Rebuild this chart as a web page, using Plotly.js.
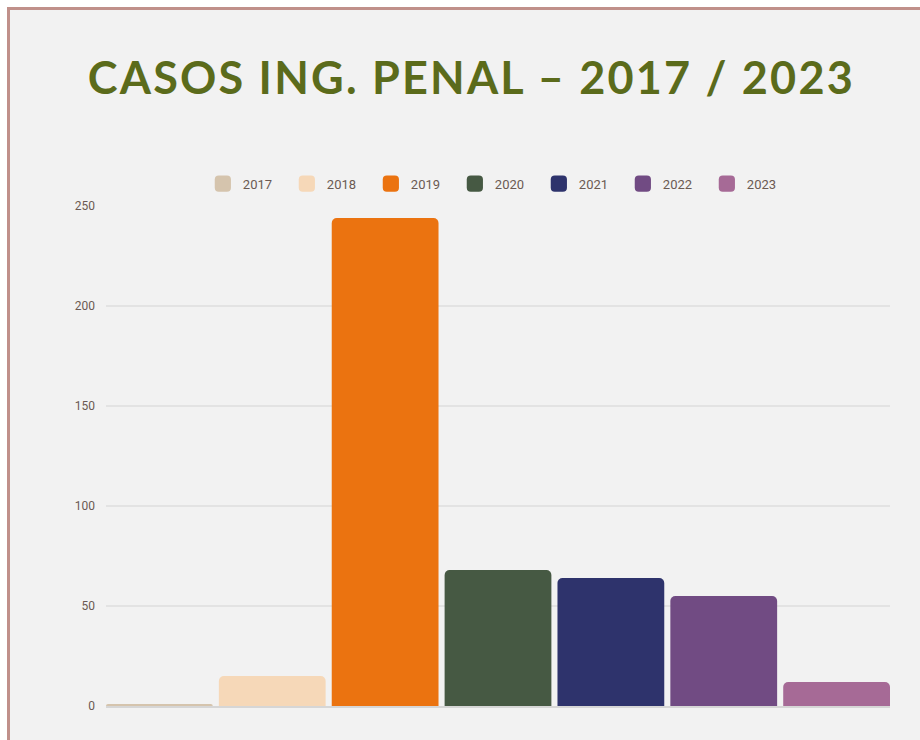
<!DOCTYPE html>
<html>
<head>
<meta charset="utf-8">
<script src="https://cdn.plot.ly/plotly-3.0.1.min.js"></script>
<style>
  html, body { margin: 0; padding: 0; background: #ffffff; width: 920px; height: 740px; overflow: hidden; }
  #frame { position: absolute; left: 7px; top: 7px; border-left: 3px solid #c0908a; border-top: 3px solid #c0908a; width: 910px; height: 730px; }
  #chart { width: 910px; height: 730px; }
  #chart .gtitle { letter-spacing: 2.2px; }
</style>
</head>
<body>
<div id="frame"><div id="chart"></div></div>
<script>
const years = ["2017", "2018", "2019", "2020", "2021", "2022", "2023"];
const casos = [1, 15, 244, 68, 64, 55, 12];
const barColors = ["#d5c4ad", "#f6d8b8", "#eb7310", "#465943", "#2e336c", "#714b83", "#a66a96"];

const traces = years.map((yr, i) => ({
  type: "bar",
  name: yr,
  x: [yr],
  y: [casos[i]],
  marker: { color: barColors[i], cornerradius: 5 },
  hoverinfo: "x+y"
}));

const layout = {
  width: 910,
  height: 730,
  paper_bgcolor: "#f2f2f2",
  plot_bgcolor: "#f2f2f2",
  margin: { l: 96, r: 30, t: 196, b: 34 },
  barmode: "overlay",
  bargap: 0.054,
  title: {
    text: "<b>CASOS ING. PENAL – 2017 / 2023</b>",
    font: { family: "Lato, 'Open Sans', sans-serif", size: 45, color: "#5b6b1b" },
    x: 0.507, xref: "container", xanchor: "center",
    y: 0.907, yref: "container", yanchor: "middle"
  },
  showlegend: true,
  legend: {
    orientation: "h",
    x: 0.535, xref: "container", xanchor: "center",
    y: 0.762, yref: "container", yanchor: "middle",
    font: { family: "Roboto, sans-serif", size: 13, color: "#6b5a52" },
    bgcolor: "rgba(0,0,0,0)",
    itemwidth: 30,
    entrywidth: 39,
    entrywidthmode: "pixels",
    traceorder: "normal"
  },
  xaxis: {
    type: "category",
    categoryorder: "array",
    categoryarray: years,
    range: [-0.473, 6.473],
    showticklabels: false,
    showgrid: false,
    zeroline: false,
    showline: true,
    linecolor: "#d6d6d6",
    linewidth: 2,
    ticks: ""
  },
  yaxis: {
    range: [0, 250],
    tickvals: [0, 50, 100, 150, 200, 250],
    showgrid: true,
    gridcolor: "#e3e3e3",
    gridwidth: 2,
    zeroline: false,
    showline: false,
    ticks: "",
    ticklabelstandoff: 10,
    tickfont: { family: "Roboto, sans-serif", size: 12, color: "#6b5a52" }
  }
};

Plotly.newPlot("chart", traces, layout, { displayModeBar: false, staticPlot: true }).then(() => {
  document.querySelectorAll("#chart .legendpoints path").forEach(p => {
    const t = p.getAttribute("transform") || "";
    p.setAttribute("transform", t + " scale(1.35)");
  });
});
</script>
</body>
</html>
